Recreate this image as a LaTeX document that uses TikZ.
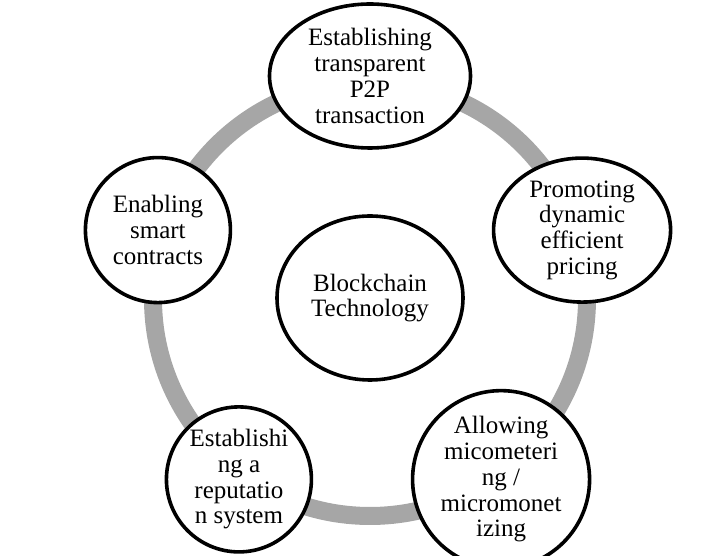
\documentclass[tikz,border=0pt]{standalone}
\usepackage{fontspec}
\setmainfont{Liberation Serif}
\usetikzlibrary{calc,positioning,shapes.geometric}
\definecolor{bcInk}{HTML}{000000}
\definecolor{bcRing}{HTML}{A6A6A6}
\tikzset{
  bc ring/.style={draw=bcRing, line width=18pt},
  bc bubble/.style={
    ellipse,
    draw=bcInk,
    fill=white,
    line width=3.6pt,
    inner sep=0pt,
    align=center,
    font=\fontsize{25}{25.7}\selectfont
  },
  bc round/.style={bc bubble, minimum width=145pt, minimum height=145pt},
  bc wide/.style={bc bubble, minimum width=177pt, minimum height=144pt}
}

\begin{document}
\begin{tikzpicture}[x=1pt,y=1pt]
  \useasboundingbox (0,0) rectangle (715,556);
  \coordinate (C) at (370,257);

  \draw[bc ring] (C) circle[radius=217];

  \node[bc bubble, minimum width=186pt, minimum height=164pt] (core) at ($(C)+(0,1)$)
    {Blockchain\\Technology};
  \node[bc bubble, minimum width=201pt, minimum height=144pt] (ptp) at ($(C)+(90:223)$)
    {Establishing\\transparent\\P2P\\transaction};
  \node[bc wide] (pricing) at ($(C)+(18:223)$)
    {Promoting\\dynamic\\efficient\\pricing};
  \node[bc wide, minimum height=145pt] (meter) at ($(C)+(306:223)$)
    {Allowing\\micometeri\\ng /\\micromonet\\izing};
  \node[bc round] (rep) at ($(C)+(234:223)$)
    {Establishi\\ng a\\reputatio\\n system};
  \node[bc round] (smart) at ($(C)+(162:223)$)
    {Enabling\\smart\\contracts};
\end{tikzpicture}
\end{document}
